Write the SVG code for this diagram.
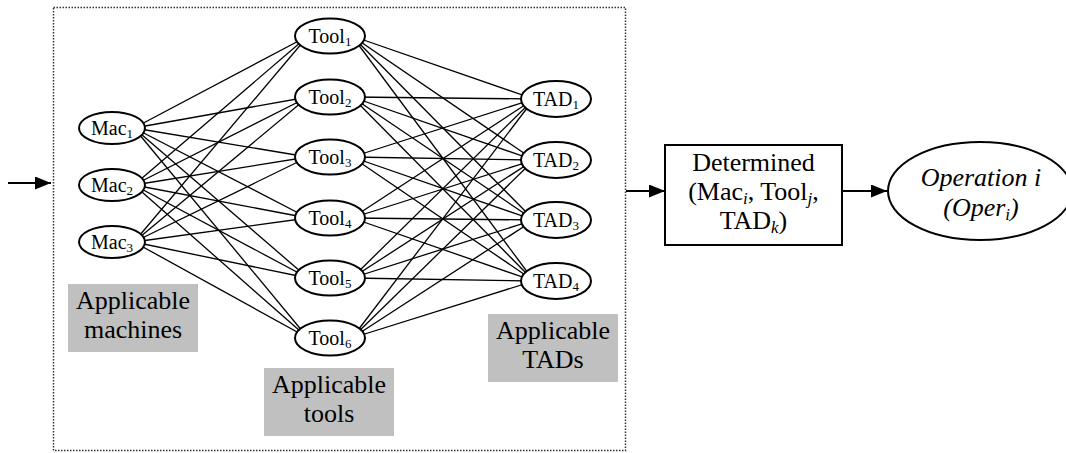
<svg xmlns="http://www.w3.org/2000/svg" width="1066" height="453" viewBox="0 0 1066 453">
<style>
.n{font-family:"Liberation Serif","Times New Roman","DejaVu Serif",serif;font-size:20px;fill:#000;text-anchor:middle}
.s{font-size:13px}
.lb{font-family:"Liberation Serif","Times New Roman","DejaVu Serif",serif;font-size:26px;fill:#000;text-anchor:middle}
.ls{font-size:17px;font-style:italic}
.it{font-style:italic}
.node{fill:#fff;stroke:#000;stroke-width:2}
.gray{fill:#c0c0c0}
.c line{stroke:#000;stroke-width:1.3}
.c line.arr{stroke:#000;stroke-width:2;fill:none}
</style>
<defs>
<marker id="ah" markerWidth="16" markerHeight="13" refX="16" refY="6.5" orient="auto" markerUnits="userSpaceOnUse"><path d="M0,0 L16,6.5 L0,13 z" fill="#000"/></marker>
</defs>
<rect id="scope" x="53.5" y="7.5" width="572" height="443" fill="none" stroke="#333" stroke-width="1.5" stroke-dasharray="1.5 1.5"/>
<g id="connectors" class="c">
<line x1="134" y1="128" x2="308" y2="36"/><line x1="134" y1="128" x2="308" y2="97"/><line x1="134" y1="128" x2="308" y2="157"/><line x1="134" y1="128" x2="308" y2="218"/><line x1="134" y1="128" x2="308" y2="278"/><line x1="134" y1="128" x2="308" y2="338"/>
<line x1="134" y1="185" x2="308" y2="36"/><line x1="134" y1="185" x2="308" y2="97"/><line x1="134" y1="185" x2="308" y2="157"/><line x1="134" y1="185" x2="308" y2="218"/><line x1="134" y1="185" x2="308" y2="278"/><line x1="134" y1="185" x2="308" y2="338"/>
<line x1="134" y1="242" x2="308" y2="36"/><line x1="134" y1="242" x2="308" y2="97"/><line x1="134" y1="242" x2="308" y2="157"/><line x1="134" y1="242" x2="308" y2="218"/><line x1="134" y1="242" x2="308" y2="278"/><line x1="134" y1="242" x2="308" y2="338"/>
<line x1="352" y1="36" x2="534" y2="99"/><line x1="352" y1="36" x2="534" y2="160"/><line x1="352" y1="36" x2="534" y2="220"/><line x1="352" y1="36" x2="534" y2="281"/>
<line x1="352" y1="97" x2="534" y2="99"/><line x1="352" y1="97" x2="534" y2="160"/><line x1="352" y1="97" x2="534" y2="220"/><line x1="352" y1="97" x2="534" y2="281"/>
<line x1="352" y1="157" x2="534" y2="99"/><line x1="352" y1="157" x2="534" y2="160"/><line x1="352" y1="157" x2="534" y2="220"/><line x1="352" y1="157" x2="534" y2="281"/>
<line x1="352" y1="218" x2="534" y2="99"/><line x1="352" y1="218" x2="534" y2="160"/><line x1="352" y1="218" x2="534" y2="220"/><line x1="352" y1="218" x2="534" y2="281"/>
<line x1="352" y1="278" x2="534" y2="99"/><line x1="352" y1="278" x2="534" y2="160"/><line x1="352" y1="278" x2="534" y2="220"/><line x1="352" y1="278" x2="534" y2="281"/>
<line x1="352" y1="338" x2="534" y2="99"/><line x1="352" y1="338" x2="534" y2="160"/><line x1="352" y1="338" x2="534" y2="220"/><line x1="352" y1="338" x2="534" y2="281"/>
<line class="arr" x1="8" y1="183" x2="51" y2="183" marker-end="url(#ah)"/>
<line class="arr" x1="626" y1="191" x2="665" y2="191" marker-end="url(#ah)"/>
<line class="arr" x1="842" y1="191" x2="887" y2="191" marker-end="url(#ah)"/>
</g>
<g id="mac1"><ellipse class="node" cx="112" cy="128" rx="33" ry="16"/><text class="n" x="112" y="135">Mac<tspan class="s" dy="3">1</tspan></text></g>
<g id="mac2"><ellipse class="node" cx="112" cy="185" rx="33" ry="16"/><text class="n" x="112" y="192">Mac<tspan class="s" dy="3">2</tspan></text></g>
<g id="mac3"><ellipse class="node" cx="112" cy="242" rx="33" ry="16"/><text class="n" x="112" y="249">Mac<tspan class="s" dy="3">3</tspan></text></g>
<g id="tool1"><ellipse class="node" cx="330" cy="36" rx="35" ry="17.5"/><text class="n" x="330" y="43">Tool<tspan class="s" dy="3">1</tspan></text></g>
<g id="tool2"><ellipse class="node" cx="330" cy="97" rx="35" ry="17.5"/><text class="n" x="330" y="104">Tool<tspan class="s" dy="3">2</tspan></text></g>
<g id="tool3"><ellipse class="node" cx="330" cy="157" rx="35" ry="17.5"/><text class="n" x="330" y="164">Tool<tspan class="s" dy="3">3</tspan></text></g>
<g id="tool4"><ellipse class="node" cx="330" cy="218" rx="35" ry="17.5"/><text class="n" x="330" y="225">Tool<tspan class="s" dy="3">4</tspan></text></g>
<g id="tool5"><ellipse class="node" cx="330" cy="278" rx="35" ry="17.5"/><text class="n" x="330" y="285">Tool<tspan class="s" dy="3">5</tspan></text></g>
<g id="tool6"><ellipse class="node" cx="330" cy="338" rx="35" ry="17.5"/><text class="n" x="330" y="345">Tool<tspan class="s" dy="3">6</tspan></text></g>
<g id="tad1"><ellipse class="node" cx="556" cy="99" rx="35" ry="18"/><text class="n" x="556" y="106">TAD<tspan class="s" dy="3">1</tspan></text></g>
<g id="tad2"><ellipse class="node" cx="556" cy="160" rx="35" ry="18"/><text class="n" x="556" y="167">TAD<tspan class="s" dy="3">2</tspan></text></g>
<g id="tad3"><ellipse class="node" cx="556" cy="220" rx="35" ry="18"/><text class="n" x="556" y="227">TAD<tspan class="s" dy="3">3</tspan></text></g>
<g id="tad4"><ellipse class="node" cx="556" cy="281" rx="35" ry="18"/><text class="n" x="556" y="288">TAD<tspan class="s" dy="3">4</tspan></text></g>
<g id="label-machines"><rect class="gray" x="68" y="284" width="130" height="68"/><text class="lb" x="133" y="309">Applicable</text><text class="lb" x="133" y="338">machines</text></g>
<g id="label-tools"><rect class="gray" x="264" y="368" width="130" height="68"/><text class="lb" x="329" y="393">Applicable</text><text class="lb" x="329" y="422">tools</text></g>
<g id="label-tads"><rect class="gray" x="488" y="314" width="130" height="68"/><text class="lb" x="553" y="339">Applicable</text><text class="lb" x="553" y="368">TADs</text></g>
<g id="determined"><rect x="665" y="145" width="177" height="100" fill="#fff" stroke="#000" stroke-width="2"/>
<text class="lb" x="753.5" y="171">Determined</text>
<text class="lb" x="753.5" y="200">(Mac<tspan class="ls" dy="4">i</tspan><tspan dy="-4">, Tool</tspan><tspan class="ls" dy="4">j</tspan><tspan dy="-4">,</tspan></text>
<text class="lb" x="753.5" y="229">TAD<tspan class="ls" dy="4">k</tspan><tspan dy="-4">)</tspan></text></g>
<g id="operation"><ellipse class="node" cx="980" cy="191" rx="92" ry="49"/>
<text class="lb it" x="981" y="186">Operation i</text>
<text class="lb it" x="981" y="216">(Oper<tspan class="ls" dy="4">i</tspan><tspan dy="-4">)</tspan></text></g>
</svg>
